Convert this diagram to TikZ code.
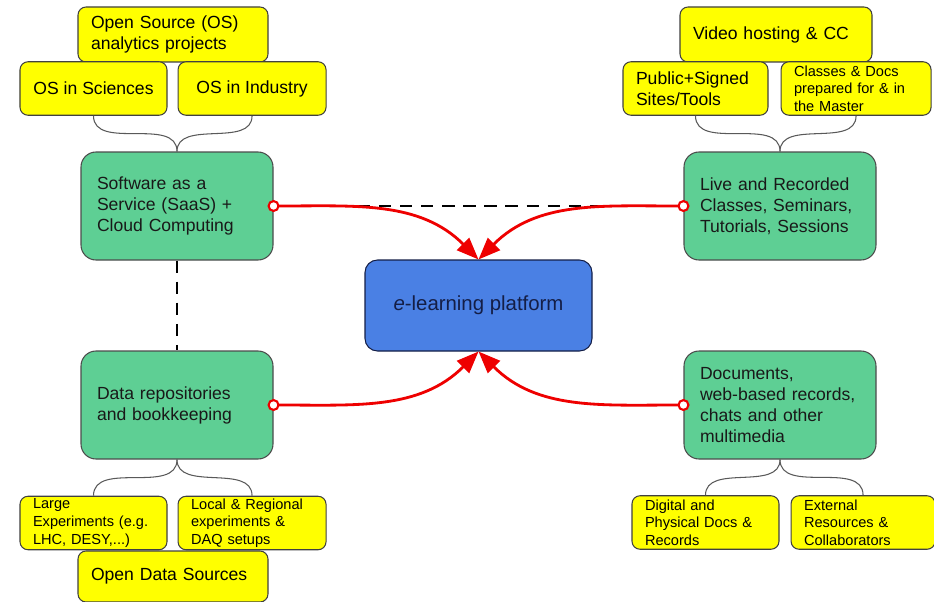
\documentclass[tikz,border=0pt]{standalone}
\usepackage{fontspec}
\setmainfont{Liberation Sans}
\usepackage{tikz}
\usetikzlibrary{arrows.meta, positioning}
\definecolor{topicgreen}{RGB}{94,207,148}
\definecolor{hubblue}{RGB}{74,128,228}
\definecolor{hubtext}{RGB}{20,30,70}
\definecolor{noteyellow}{RGB}{255,255,0}
\definecolor{arrowred}{RGB}{238,0,0}

\begin{document}
\begin{tikzpicture}
    \useasboundingbox (0,0) rectangle (18.68,-12.04);
    % Define styles
    \tikzstyle{topic} = [rectangle, rounded corners=0.3cm, draw=black!70,
                          line width=0.6pt, fill=topicgreen, text=black!90,
                          text width=3.2cm, align=left, inner xsep=0.32cm,
                          minimum height=2.16cm,
                          font=\fontsize{10}{12}\selectfont]
    \tikzstyle{hub} = [rectangle, rounded corners=0.25cm, draw=hubtext,
                        line width=0.6pt, fill=hubblue, text=hubtext,
                        minimum width=4.54cm, minimum height=1.82cm,
                        font=\fontsize{11.6}{14}\selectfont]
    \tikzstyle{note} = [rectangle, rounded corners=0.16cm, draw=black!75,
                         line width=0.6pt, fill=noteyellow, align=left,
                         inner xsep=0.26cm, inner ysep=0.03cm,
                         minimum height=1.07cm,
                         font=\fontsize{10}{12}\selectfont]
    \tikzstyle{smallnote} = [note, font=\fontsize{8.3}{10}\selectfont]
    \tikzstyle{brace} = [draw=black!65, line width=0.6pt]
    \tikzstyle{link} = [black, line width=1.1pt, dash pattern=on 7pt off 5pt]
    \tikzstyle{feed} = [arrowred, line width=1.6pt,
                        {Circle[fill=white, length=2.4mm, line width=1.2pt]}-{Triangle[length=4.4mm, width=3.4mm]},
                        shorten <=-1.2mm]

    % Create blocks
    \node[hub] (platform) at (9.57,-6.11) {\textit{e}-learning platform};

    \node[topic] (saas) at (3.54,-4.12) {Software as a\\Service (SaaS) +\\Cloud Computing};
    \node[topic] (live) at (15.6,-4.12) {Live and Recorded\\Classes, Seminars,\\Tutorials, Sessions};
    \node[topic] (repo) at (3.54,-8.10) {Data repositories\\and bookkeeping};
    \node[topic] (media) at (15.6,-8.10) {Documents,\\web-based records,\\chats and other\\multimedia};

    \node[note, text width=3.28cm, minimum height=1.1cm] (osproj) at (3.46,-0.69) {Open Source (OS)\\analytics projects};
    \node[note, minimum width=2.94cm] (ossci) at (1.87,-1.77) {OS in Sciences};
    \node[note, minimum width=2.96cm, right=0.2cm of ossci] (osind) {OS in Industry};

    \node[note, text width=3.32cm, minimum height=1.1cm] (video) at (15.52,-0.69) {Video hosting \& CC};
    \node[note, text width=2.38cm] (public) at (13.91,-1.77) {Public+Signed\\Sites/Tools};
    \node[smallnote, text width=2.48cm, right=0.24cm of public] (classes) {Classes \& Docs\\prepared for \& in\\the Master};

    \node[note, text width=3.28cm, minimum height=1.02cm] (opendata) at (3.46,-11.53) {Open Data Sources};
    \node[smallnote, text width=2.42cm] (large) at (1.87,-10.46) {Large\\Experiments (e.g.\\LHC, DESY,...)};
    \node[smallnote, text width=2.44cm, right=0.2cm of large] (local) {Local \& Regional\\experiments \&\\DAQ setups};

    \node[smallnote, text width=2.42cm] (digital) at (14.11,-10.45) {Digital and\\Physical Docs \&\\Records};
    \node[smallnote, text width=2.36cm, right=0.22cm of digital] (external) {External\\Resources \&\\Collaborators};

    % Draw braces
    \draw[brace] (ossci.south) to[out=-90, in=90] (saas.north);
    \draw[brace] (osind.south) to[out=-90, in=90] (saas.north);
    \draw[brace] (public.south) to[out=-90, in=90] (live.north);
    \draw[brace] (classes.south) to[out=-90, in=90] (live.north);
    \draw[brace] (repo.south) to[out=-90, in=90] (large.north);
    \draw[brace] (repo.south) to[out=-90, in=90] (local.north);
    \draw[brace] (media.south) to[out=-90, in=90] (digital.north);
    \draw[brace] (media.south) to[out=-90, in=90] (external.north);

    % Draw links
    \draw[link] (saas.east) -- (live.west);
    \draw[link] (saas.south) -- (repo.north);

    % Draw arrows
    \draw[feed] (saas.east) to[out=0, in=135] (platform.north);
    \draw[feed] (live.west) to[out=180, in=45] (platform.north);
    \draw[feed] (repo.east) to[out=0, in=-135] (platform.south);
    \draw[feed] (media.west) to[out=180, in=-45] (platform.south);
\end{tikzpicture}
\end{document}
